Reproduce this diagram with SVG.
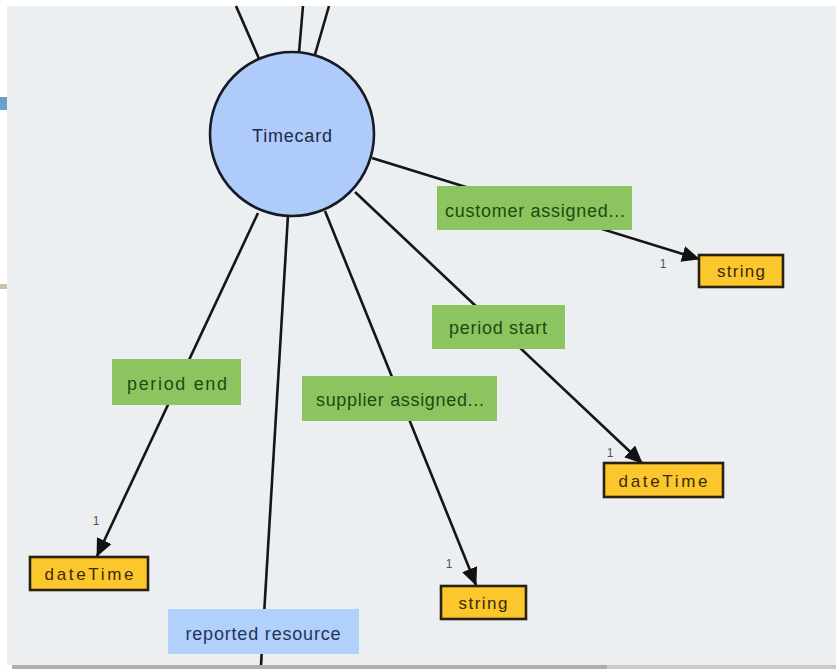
<svg xmlns="http://www.w3.org/2000/svg" width="836" height="671" viewBox="0 0 836 671">
  <defs>
    <marker id="arrow" markerUnits="userSpaceOnUse" markerWidth="19" markerHeight="17" refX="17" refY="8" orient="auto">
      <path d="M0,0 L18,8 L0,16 z" fill="#111"/>
    </marker>
    <style>
      text { font-family: "Liberation Sans", Arial, sans-serif; text-anchor: middle; }
      .edge { stroke: #151515; stroke-width: 2.6; fill: none; }
      .to-type { marker-end: url(#arrow); }
      .rel rect { fill: #8cc560; }
      .rel text { fill: #1f4a10; font-size: 18px; }
      .ref rect { fill: #b1d0fb; }
      .ref text { fill: #23345a; font-size: 18px; }
      .type rect { fill: #fcc72c; stroke: #2a2010; stroke-width: 2.6; }
      .type text { fill: #3a2a08; font-size: 17px; }
      .card { fill: #555555; font-size: 12px; }
    </style>
  </defs>

  <!-- canvas -->
  <rect x="0" y="0" width="836" height="671" fill="#ffffff"/>
  <rect x="7" y="6" width="829" height="659" fill="#eceff1"/>
  <rect x="0" y="97" width="7" height="13" fill="#6e9fca"/>
  <rect x="0" y="284" width="7" height="5" fill="#c9c1aa"/>
  <rect x="12" y="665" width="595" height="4" fill="#aeaeae"/>
  <rect x="607" y="665" width="229" height="4" fill="#c9c9c9"/>

  <!-- connectors -->
  <g id="connectors">
    <line class="edge" x1="292" y1="134" x2="236" y2="6"/>
    <line class="edge" x1="292" y1="134" x2="303" y2="6"/>
    <line class="edge" x1="292" y1="134" x2="329" y2="6"/>
    <line class="edge to-type" x1="372" y1="158" x2="699" y2="259"/>
    <line class="edge to-type" x1="355" y1="192" x2="642" y2="463"/>
    <line class="edge to-type" x1="325" y1="211" x2="476" y2="585"/>
    <line class="edge to-type" x1="258" y1="213" x2="97" y2="556"/>
    <line class="edge" x1="288" y1="215" x2="261" y2="665"/>
  </g>

  <!-- central class -->
  <g id="timecard">
    <circle cx="292" cy="134" r="82" fill="#aecbfa" stroke="#161a24" stroke-width="2.6"/>
    <text x="292" y="142" font-size="18" fill="#1d2a48" textLength="80" lengthAdjust="spacing">Timecard</text>
  </g>

  <!-- relationship labels -->
  <g id="rel-customer-assigned" class="rel">
    <rect x="437" y="186" width="195" height="44"/>
    <text x="535" y="217" textLength="180" lengthAdjust="spacing">customer assigned...</text>
  </g>
  <g id="rel-period-start" class="rel">
    <rect x="432" y="305" width="133" height="44"/>
    <text x="498" y="334" textLength="98" lengthAdjust="spacing">period start</text>
  </g>
  <g id="rel-supplier-assigned" class="rel">
    <rect x="302" y="376" width="195" height="45"/>
    <text x="400" y="406" textLength="168" lengthAdjust="spacing">supplier assigned...</text>
  </g>
  <g id="rel-period-end" class="rel">
    <rect x="112" y="359" width="129" height="46"/>
    <text x="177" y="390" textLength="100" lengthAdjust="spacing">period end</text>
  </g>
  <g id="ref-reported-resource" class="ref">
    <rect x="168" y="609" width="191" height="45"/>
    <text x="263" y="640" textLength="155" lengthAdjust="spacing">reported resource</text>
  </g>

  <!-- data types -->
  <g id="type-string-customer" class="type">
    <rect x="699" y="255" width="84" height="32"/>
    <text x="741" y="277" textLength="48" lengthAdjust="spacing">string</text>
  </g>
  <g id="type-datetime-start" class="type">
    <rect x="604" y="463" width="119" height="34"/>
    <text x="663" y="487" textLength="89" lengthAdjust="spacing">dateTime</text>
  </g>
  <g id="type-string-supplier" class="type">
    <rect x="441" y="586" width="85" height="33"/>
    <text x="483" y="609" textLength="49" lengthAdjust="spacing">string</text>
  </g>
  <g id="type-datetime-end" class="type">
    <rect x="30" y="557" width="118" height="33"/>
    <text x="89" y="580" textLength="89" lengthAdjust="spacing">dateTime</text>
  </g>

  <!-- cardinalities -->
  <g id="cardinalities">
    <text class="card" x="663" y="268">1</text>
    <text class="card" x="610" y="457">1</text>
    <text class="card" x="449" y="568">1</text>
    <text class="card" x="96" y="525">1</text>
  </g>
</svg>
